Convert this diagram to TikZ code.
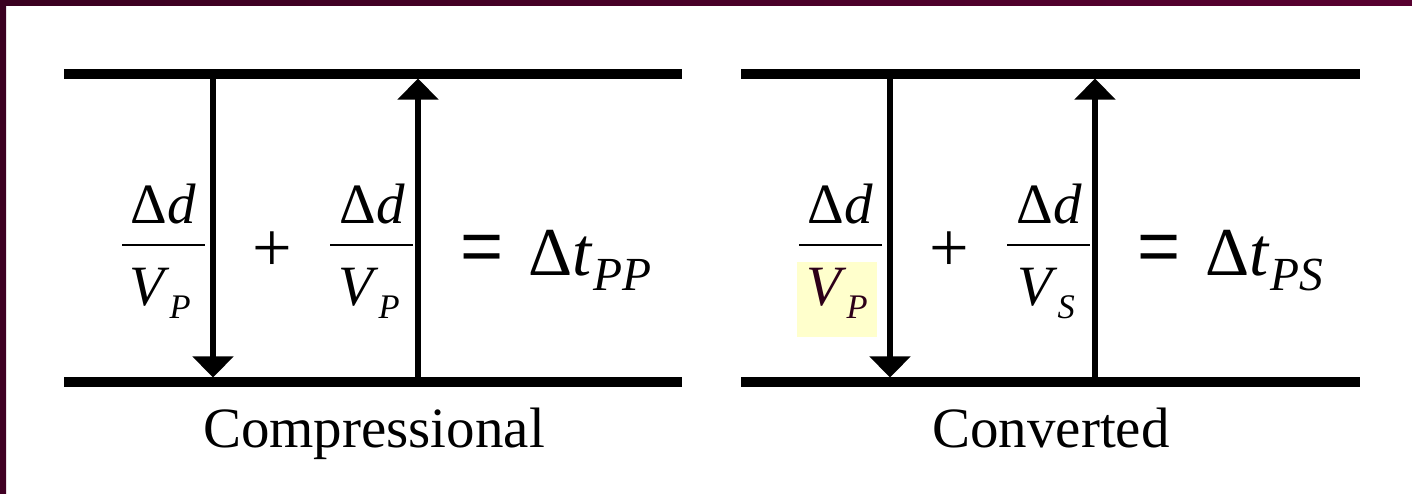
\documentclass[tikz,border=0pt]{standalone}
\usepackage{fontspec}
\setmainfont{Liberation Serif}
\newfontfamily\symf{Liberation Sans}
\usetikzlibrary{arrows.meta}
\definecolor{frameA}{RGB}{58,0,32}
\definecolor{frameB}{RGB}{88,0,48}
\definecolor{hl}{RGB}{255,255,204}
\definecolor{vpcol}{RGB}{45,0,25}
\tikzset{
  rail/.style={line width=2.6pt},
  ray/.style={line width=1.7pt,-{Triangle[width=11.4pt,length=6pt]}},
  fbar/.style={line width=0.6pt},
  txt/.style={inner sep=0pt,anchor=base,font=\fontsize{16.2}{19}\selectfont},
  big/.style={inner sep=0pt,anchor=base west,font=\fontsize{19.5}{22}\selectfont},
  plusop/.style={inner sep=0pt,font=\fontsize{20}{22}\selectfont},
  eqop/.style={inner sep=0pt,font=\symf\fontsize{21}{24}\selectfont},
  captext/.style={inner sep=0pt,anchor=base,font=\fontsize{16.2}{19}\selectfont},
}
\newcommand{\subsm}[1]{\raisebox{-3.7pt}{\fontsize{9.8}{11}\selectfont\textit{#1}}}
\newcommand{\subbig}[1]{\raisebox{-4.3pt}{\fontsize{13.5}{15}\selectfont\textit{#1}}}
\begin{document}
\begin{tikzpicture}[x=0.01cm,y=-0.01cm]
\useasboundingbox (0,0) rectangle (1412,493);
\shade[left color=frameA,right color=frameB] (0,0) rectangle (1412,5);
\shade[top color=frameA,bottom color=frameA!80!frameB] (0,0) rectangle (6,493);

% ---------- left panel ----------
\coordinate (LT1) at (64,74);  \coordinate (LT2) at (682,74);
\coordinate (LB1) at (64,382); \coordinate (LB2) at (682,382);
\draw[rail] (LT1) -- (LT2);
\draw[rail] (LB1) -- (LB2);
\coordinate (LdS) at (213,78.5);  \coordinate (LdE) at (213,377.5);
\coordinate (LuS) at (418,377.5); \coordinate (LuE) at (418,78.5);
\draw[ray] (LdS) -- (LdE);
\draw[ray] (LuS) -- (LuE);

\node[txt] (Ln1) at (163,223) {Δ\textit{d}};
\draw[fbar] (122,245) -- (205,245);
\node[txt] (Ld1) at (160,305) {\textit{V}\subsm{P}};
\node[plusop] (Lplus) at (272,252) {+};
\node[txt] (Ln2) at (372,223) {Δ\textit{d}};
\draw[fbar] (330,245) -- (413,245);
\node[txt] (Ld2) at (369,305) {\textit{V}\subsm{P}};
\node[eqop] (Leq) at (482,253) {=};
\node[big] (Lt) at (528,275) {Δ\textit{t}\subbig{PP}};
\node[captext] (Lcap) at (374,447) {Compressional};

% ---------- right panel ----------
\coordinate (RT1) at (741,74);  \coordinate (RT2) at (1360,74);
\coordinate (RB1) at (741,382); \coordinate (RB2) at (1360,382);
\draw[rail] (RT1) -- (RT2);
\draw[rail] (RB1) -- (RB2);
\coordinate (RdS) at (890,78.5);   \coordinate (RdE) at (890,377.5);
\coordinate (RuS) at (1095,377.5); \coordinate (RuE) at (1095,78.5);
\draw[ray] (RdS) -- (RdE);
\draw[ray] (RuS) -- (RuE);

\fill[hl] (797,262) rectangle (877,337);
\node[txt] (Rn1) at (840,223) {Δ\textit{d}};
\draw[fbar] (799,245) -- (882,245);
\node[txt,text=vpcol] (Rd1) at (837,305) {\textit{V}\subsm{P}};
\node[plusop] (Rplus) at (949,252) {+};
\node[txt] (Rn2) at (1049,223) {Δ\textit{d}};
\draw[fbar] (1007,245) -- (1090,245);
\node[txt] (Rd2) at (1046,305) {\textit{V}\subsm{S}};
\node[eqop] (Req) at (1159,253) {=};
\node[big] (Rt) at (1205,275) {Δ\textit{t}\subbig{PS}};
\node[captext] (Rcap) at (1051,447) {Converted};
\end{tikzpicture}
\end{document}
